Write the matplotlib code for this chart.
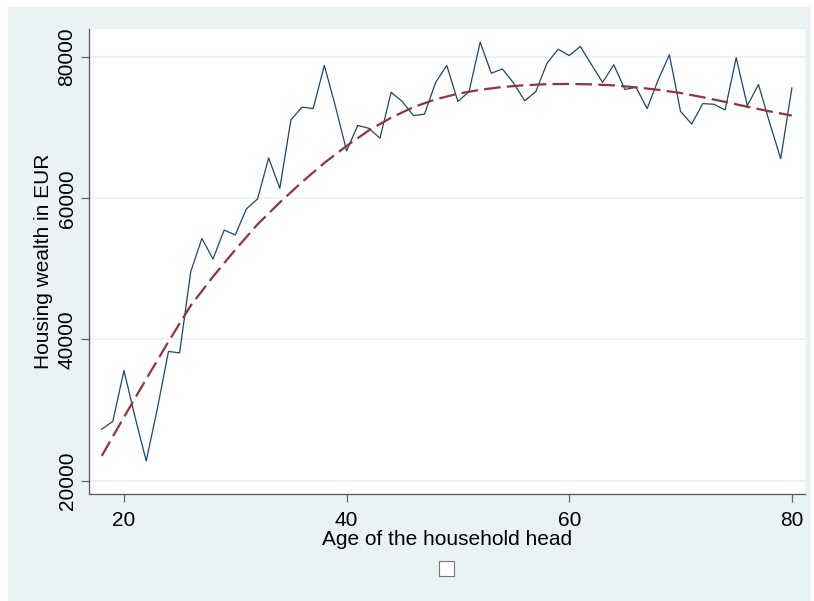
import matplotlib.pyplot as plt
from matplotlib.patches import Rectangle
import numpy as np

# Mean housing wealth by age of the household head
ages = list(range(18, 81))
wealth = [27300, 28400, 35600, 29000, 22800, 30200, 38300, 38100, 49600, 54300,
          51400, 55500, 54800, 58500, 59900, 65700, 61400, 71100, 72900, 72700,
          78800, 73000, 66700, 70300, 69900, 68500, 75000, 73700, 71700, 71900,
          76400, 78800, 73700, 75100, 82100, 77700, 78300, 76300, 73800, 75100,
          79100, 81100, 80200, 81500, 78900, 76400, 78900, 75400, 75700, 72700,
          76800, 80300, 72300, 70500, 73400, 73300, 72500, 79900, 73100, 76100,
          70700, 65600, 75600]

# Fitted profile
fit_ages = [18, 20, 22, 24, 26, 28, 30, 32, 34, 36, 38, 40, 42, 44, 46, 48, 50,
            52, 54, 56, 58, 60, 62, 64, 66, 68, 70, 72, 74, 76, 78, 80]
fit_vals = [23500, 29000, 34400, 39700, 44800, 48900, 52700, 56300, 59400, 62300,
            65000, 67400, 69600, 71400, 72900, 74000, 74800, 75350, 75750, 76000,
            76150, 76180, 76120, 75980, 75700, 75350, 74900, 74300, 73650, 72950,
            72300, 71700]

bg = '#EAF2F3'
navy = '#1A476F'
maroon = '#90353B'

plt.rcParams['font.family'] = ['Liberation Sans', 'DejaVu Sans']

fig = plt.figure(figsize=(8.14, 6.01), dpi=100)
fig.patch.set_facecolor('white')
# grey graph region (Stata style) with a thin white border
fig.patches.append(Rectangle((8 / 814, 0), 803 / 814, 594 / 601,
                             transform=fig.transFigure, facecolor=bg,
                             edgecolor='none', zorder=-5))

ax = fig.add_axes([89 / 814, 107 / 601, 716 / 814, 465 / 601])
ax.set_facecolor('white')

ax.plot(ages, wealth, color=navy, linewidth=0.9, zorder=3)
ax.plot(fit_ages, fit_vals, color=maroon, linewidth=1.6,
        dashes=(7.5, 2.8), zorder=4)

ax.set_xlim(16.86, 81.18)
ax.set_ylim(18120, 83960)
ax.set_xticks([20, 40, 60, 80])
ax.set_yticks([20000, 40000, 60000, 80000])
ax.set_yticklabels(['20000', '40000', '60000', '80000'], rotation=90, va='center')
ax.grid(axis='y', color=bg, linewidth=1.3, zorder=1)
ax.set_axisbelow(True)

for s in ['top', 'right']:
    ax.spines[s].set_visible(False)
for s in ['left', 'bottom']:
    ax.spines[s].set_color('#555555')
    ax.spines[s].set_linewidth(0.9)
ax.tick_params(direction='out', length=6, width=0.9, color='#666666',
               labelsize=15)
ax.tick_params(axis='x', pad=6)
ax.tick_params(axis='y', pad=3)

ax.set_xlabel('Age of the household head', fontsize=15, labelpad=0)
ax.set_ylabel('Housing wealth in EUR', fontsize=15, labelpad=3)

# empty legend key box below the x title
fig.patches.append(Rectangle((440 / 814, 24.5 / 601), 15 / 814, 15 / 601,
                             transform=fig.transFigure, facecolor='#888888',
                             edgecolor='none', zorder=5))
fig.patches.append(Rectangle((439 / 814, 25.5 / 601), 15 / 814, 15 / 601,
                             transform=fig.transFigure, facecolor='white',
                             edgecolor='#777777', linewidth=0.8, zorder=6))

fig.savefig('out.png', dpi=100, facecolor=fig.get_facecolor())
